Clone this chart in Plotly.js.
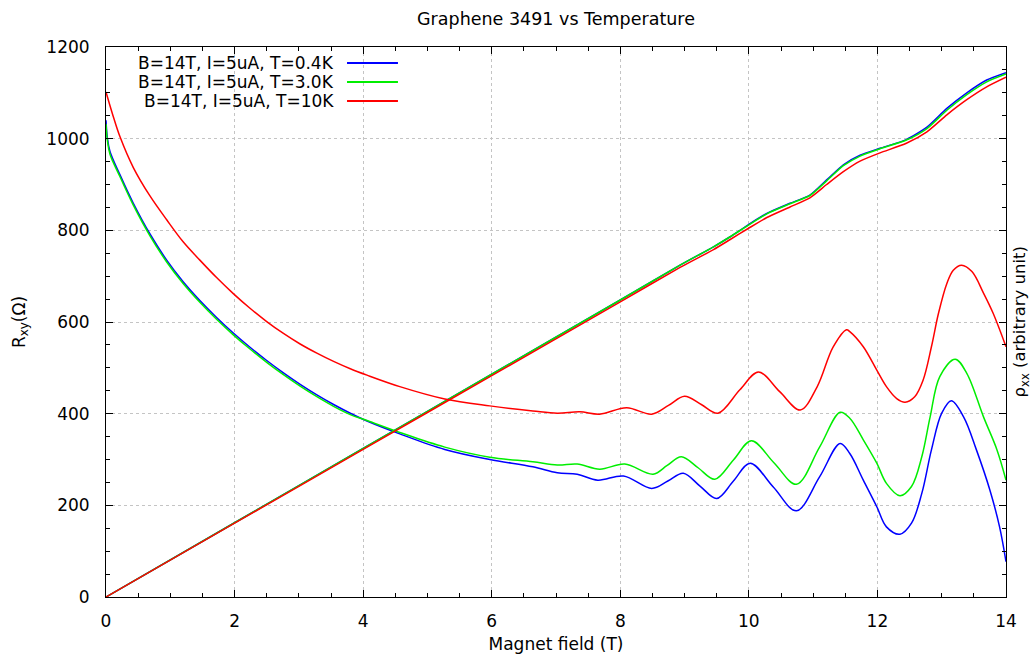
<!DOCTYPE html>
<html>
<head>
<meta charset="utf-8">
<script src="https://cdn.plot.ly/plotly-3.0.1.min.js"></script>
<style>html,body{margin:0;padding:0;background:#fff;}#chart{width:1034px;height:654px;}</style>
</head>
<body>
<div id="chart"></div>
<script>
// Hall resistance R_xy (Ohm) vs field (T)
const hallField = [0, 2, 4, 6, 8, 8.93, 9.45, 9.71, 9.99, 10.28, 10.64, 10.95, 11.21, 11.47, 11.73, 12.04, 12.45, 12.77, 13.08, 13.39, 13.7, 14];
const hallBlue  = [0, 162, 324, 486, 648, 724, 764, 786, 812, 837, 859, 877, 910, 943, 964, 979, 998, 1025, 1066, 1100, 1128, 1144];
const hallGreen = [0, 162, 324, 486, 648, 724, 764, 786, 811, 836, 858, 876, 908, 941, 962, 978, 997, 1022, 1062, 1096, 1124, 1141];
const hallRed   = [0, 161, 322, 483, 644, 719, 758, 780, 804, 828, 851, 871, 900, 928, 951, 969, 990, 1015, 1052, 1085, 1113, 1134];

// Longitudinal resistivity rho_xx (arbitrary unit)
const rhoFieldBlue = [0, 0.02, 0.062, 0.218, 0.425, 0.684, 0.944, 1.2, 1.46, 1.72, 1.98, 2.24, 2.5, 2.76, 3.02, 3.28, 3.54, 3.8, 4.06, 4.57, 5.27, 5.97, 6.64, 7.02, 7.33, 7.65, 8.05, 8.49, 8.74, 8.98, 9.24, 9.5, 9.76, 10.02, 10.38, 10.74, 11.1, 11.42, 11.57, 11.78, 11.99, 12.14, 12.35, 12.53, 12.69, 12.84, 13.0, 13.15, 13.34, 13.54, 13.75, 13.9, 14];
const rhoBlue      = [1040, 1003, 972, 921, 859, 792, 735, 688, 647, 610, 576, 545, 516, 489, 464, 441, 420, 401, 384, 356, 322, 300, 284, 271, 268, 255, 264, 237, 253, 270, 242, 215, 253, 292, 240, 188, 262, 335, 313, 255, 197, 153, 137, 161, 226, 321, 401, 428, 393, 321, 233, 153, 77];

const rhoFieldGreen = [0, 0.02, 0.062, 0.218, 0.425, 0.684, 0.944, 1.2, 1.46, 1.72, 1.98, 2.24, 2.5, 2.76, 3.02, 3.28, 3.54, 3.8, 4.06, 4.57, 5.27, 5.97, 6.64, 7.02, 7.33, 7.68, 8.07, 8.51, 8.73, 8.95, 9.21, 9.47, 9.76, 10.04, 10.39, 10.74, 11.1, 11.42, 11.57, 11.78, 11.99, 12.14, 12.35, 12.53, 12.69, 12.82, 12.97, 13.21, 13.39, 13.65, 13.86, 14];
const rhoGreen      = [1032, 998, 966, 917, 855, 788, 731, 684, 643, 606, 572, 541, 512, 485, 460, 437, 416, 398, 385, 359, 327, 305, 295, 288, 290, 279, 290, 268, 287, 306, 282, 257, 299, 341, 293, 246, 327, 403, 390, 343, 292, 248, 221, 241, 306, 393, 481, 519, 488, 393, 321, 255];

const rhoFieldRed = [0, 0.114, 0.218, 0.425, 0.684, 0.944, 1.2, 1.46, 1.72, 1.98, 2.24, 2.5, 2.76, 3.02, 3.28, 3.54, 3.8, 4.06, 4.57, 5.27, 5.97, 6.64, 7.02, 7.37, 7.68, 8.1, 8.49, 8.75, 9.0, 9.26, 9.52, 9.86, 10.15, 10.48, 10.8, 11.06, 11.31, 11.52, 11.57, 11.78, 11.99, 12.14, 12.3, 12.43, 12.58, 12.71, 12.84, 12.95, 13.08, 13.18, 13.31, 13.47, 13.65, 13.8, 14];
const rhoRed      = [1102, 1048, 1004, 937, 875, 823, 775, 735, 697, 662, 630, 601, 575, 552, 532, 514, 498, 484, 459, 432, 417, 406, 401, 404, 399, 413, 399, 418, 438, 420, 401, 452, 491, 448, 408, 458, 545, 583, 579, 546, 495, 459, 433, 425, 437, 473, 546, 619, 684, 713, 724, 710, 663, 619, 546];

const seriesNames = ["B=14T, I=5uA, T=0.4K", "B=14T, I=5uA, T=3.0K", "B=14T, I=5uA, T=10K"];
const seriesColors = ["#0000ff", "#00ee00", "#ff0000"];

const xTicks = [0, 2, 4, 6, 8, 10, 12, 14];
const yTicks = [0, 200, 400, 600, 800, 1000, 1200];

const FONT = "DejaVu Sans, sans-serif";
const hallY = [hallBlue, hallGreen, hallRed];
const rhoX = [rhoFieldBlue, rhoFieldGreen, rhoFieldRed];
const rhoY = [rhoBlue, rhoGreen, rhoRed];

const traces = [];
for (let i = 0; i < 3; i++) {
  traces.push({x: hallField, y: hallY[i], type: "scatter", mode: "lines", name: seriesNames[i],
    line: {color: seriesColors[i], width: 1.5, shape: "spline", smoothing: 0.6}, showlegend: false, hoverinfo: "x+y"});
  traces.push({x: rhoX[i], y: rhoY[i], type: "scatter", mode: "lines", name: seriesNames[i],
    line: {color: seriesColors[i], width: 1.5, shape: "spline", smoothing: 1.0}, showlegend: false, hoverinfo: "x+y"});
}

// custom gnuplot-style key (text right-aligned, sample line on the right)
const keyRows = [0.9709, 0.9364, 0.9018];
const shapes = [{type: "rect", xref: "paper", yref: "paper", x0: 0.03, x1: 0.33, y0: 0.885, y1: 0.987,
  fillcolor: "#ffffff", line: {width: 0}, layer: "between"}];
const annotations = [];
for (let i = 0; i < 3; i++) {
  shapes.push({type: "line", xref: "paper", yref: "paper", x0: 0.2678, x1: 0.3244, y0: keyRows[i], y1: keyRows[i],
    line: {color: seriesColors[i], width: 2}});
  annotations.push({xref: "paper", yref: "paper", x: 0.2555, y: keyRows[i], xanchor: "right", yanchor: "middle",
    text: seriesNames[i], showarrow: false, font: {family: FONT, size: 17, color: "#000"}});
}
annotations.push({xref: "paper", yref: "paper", x: 1.016, y: 0.5, xanchor: "center", yanchor: "middle",
  textangle: -90, text: "ρ<sub>xx</sub> (arbitrary unit)", showarrow: false, font: {family: FONT, size: 16.5, color: "#000"}});

const axisCommon = {
  showline: true, linecolor: "#000", linewidth: 1, mirror: "allticks",
  ticks: "inside", ticklen: 7, tickwidth: 1, tickcolor: "#000",
  showgrid: true, gridcolor: "#c4c4c4", griddash: "dot", gridwidth: 1,
  zeroline: false, tickfont: {family: FONT, size: 17, color: "#000"}
};

const layout = {
  width: 1034, height: 654,
  margin: {l: 106, r: 28, t: 47, b: 57},
  paper_bgcolor: "#fff", plot_bgcolor: "#fff",
  font: {family: FONT, size: 16, color: "#000"},
  title: {text: "Graphene 3491 vs Temperature", font: {family: FONT, size: 17.5, color: "#000"},
    xref: "paper", x: 0.5, xanchor: "center", yref: "container", y: 0.971, yanchor: "middle"},
  xaxis: Object.assign({}, axisCommon, {range: [0, 14], tickvals: xTicks, ticktext: xTicks.map(String),
    minor: {ticks: "inside", ticklen: 4, tickcolor: "#000", dtick: 0.5, showgrid: false},
    ticklabelstandoff: 9,
    title: {text: "Magnet field (T)", font: {family: FONT, size: 17}, standoff: 8}}),
  yaxis: Object.assign({}, axisCommon, {range: [0, 1200], tickvals: yTicks, ticktext: yTicks.map(String),
    minor: {ticks: "inside", ticklen: 4, tickcolor: "#000", dtick: 50, showgrid: false},
    ticklabelstandoff: 12,
    title: {text: "R<sub>xy</sub>(Ω)", font: {family: FONT, size: 17}, standoff: 16}}),
  shapes: shapes,
  annotations: annotations,
  showlegend: false
};

Plotly.newPlot("chart", traces, layout, {staticPlot: true, displayModeBar: false});
</script>
</body>
</html>
